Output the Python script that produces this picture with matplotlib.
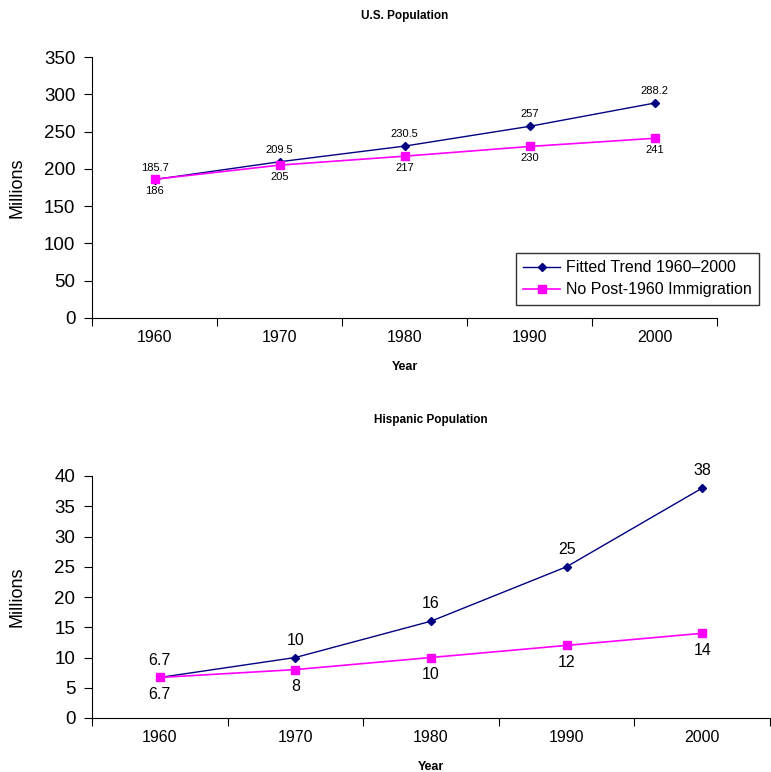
import matplotlib
matplotlib.use("Agg")
import matplotlib.pyplot as plt
import numpy as np

plt.rcParams['font.family'] = ['Liberation Sans', 'DejaVu Sans']

years = ["1960", "1970", "1980", "1990", "2000"]
us_trend = [185.7, 209.5, 230.5, 257, 288.2]
us_noimm = [186, 205, 217, 230, 241]
us_trend_lbl = ["185.7", "209.5", "230.5", "257", "288.2"]
us_noimm_lbl = ["186", "205", "217", "230", "241"]
hisp_trend = [6.7, 10, 16, 25, 38]
hisp_noimm = [6.7, 8, 10, 12, 14]
hisp_trend_lbl = ["6.7", "10", "16", "25", "38"]
hisp_noimm_lbl = ["6.7", "8", "10", "12", "14"]

navy = "#000080"
magenta = "#FF00FF"

fig = plt.figure(figsize=(7.71, 7.72), dpi=100)
ax1 = fig.add_axes([92/771, 1-318/772, 625/771, 261/772])
ax2 = fig.add_axes([92/771, 1-718/772, 678/771, 242/772])


def setup(ax, ymax, ystep, title, tpad, lblsize, off, tr, ni, trl, nil):
    x = np.arange(len(years))
    ax.plot(x, tr, color=navy, marker="D", markersize=4, lw=1, label="Fitted Trend 1960\u20132000")
    ax.plot(x, ni, color=magenta, marker="s", markersize=5.5, lw=1.2, label="No Post-1960 Immigration")
    for i in range(len(x)):
        ax.annotate(trl[i], (x[i], tr[i]), xytext=(0, off), textcoords="offset points",
                    ha="center", va="bottom", fontsize=lblsize)
        ax.annotate(nil[i], (x[i], ni[i]), xytext=(0, -off), textcoords="offset points",
                    ha="center", va="top", fontsize=lblsize)
    ax.set_xlim(-0.5, len(years) - 0.5)
    ax.set_ylim(0, ymax)
    ax.set_yticks(np.arange(0, ymax + 1, ystep))
    ax.set_xticks(np.arange(-0.5, len(years), 1.0))
    ax.set_xticklabels([])
    ax.set_xticks(x, minor=True)
    ax.set_xticklabels(years, minor=True)
    ax.tick_params(axis="x", which="minor", length=0, labelsize=11.5, pad=9)
    ax.tick_params(axis="x", which="major", length=6, direction="out")
    ax.tick_params(axis="y", length=6, direction="out", labelsize=13.5, pad=6)
    for s in ["top", "right"]:
        ax.spines[s].set_visible(False)
    ax.set_title(title, fontsize=8.5, fontweight="bold", pad=tpad)
    ax.set_ylabel("Millions", fontsize=13)
    ax.set_xlabel("Year", fontsize=9, fontweight="bold", labelpad=11)


setup(ax1, 350, 50, "U.S. Population", 27, 8, 5, us_trend, us_noimm, us_trend_lbl, us_noimm_lbl)
setup(ax2, 40, 5, "Hispanic Population", 38, 11.5, 7, hisp_trend, hisp_noimm, hisp_trend_lbl, hisp_noimm_lbl)

ax1.yaxis.set_label_coords(-0.107, 0.5)
ax2.yaxis.set_label_coords(-0.098, 0.5)

leg = ax1.legend(loc="upper left", bbox_to_anchor=(516/771, 1-253/772), bbox_transform=fig.transFigure,
                 fontsize=11.5, frameon=True, fancybox=False, edgecolor="black", borderaxespad=0,
                 handlelength=2.3, handletextpad=0.4, borderpad=0.45, labelspacing=0.45)
leg.get_frame().set_linewidth(1)

fig.savefig("out.png", dpi=100)
